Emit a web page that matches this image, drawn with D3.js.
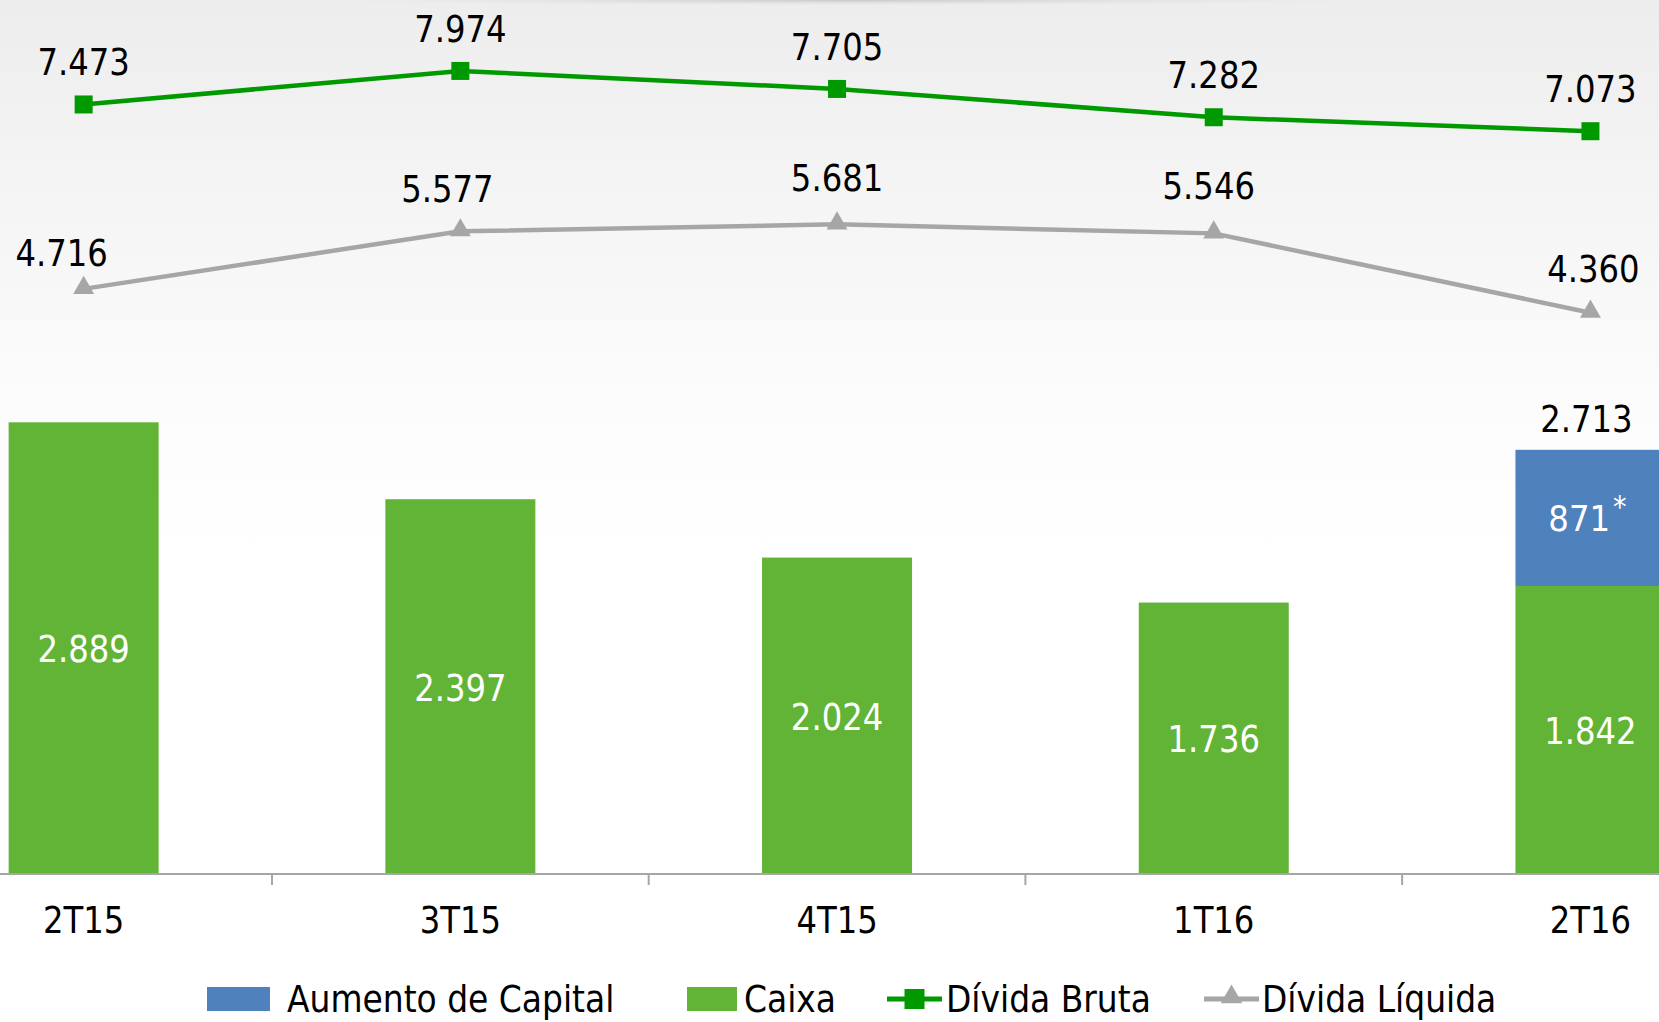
<!DOCTYPE html>
<html>
<head>
<meta charset="utf-8">
<script src="https://cdn.jsdelivr.net/npm/d3@7/dist/d3.min.js"></script>
<style>
  html, body { margin: 0; padding: 0; background: #ffffff; }
  svg { display: block; }
  text { font-family: "DejaVu Sans Condensed", "DejaVu Sans", sans-serif; }
</style>
</head>
<body>
<svg id="chart" width="1659" height="1022"></svg>
<script>
// ---- data ----
const categories = ["2T15", "3T15", "4T15", "1T16", "2T16"];
const caixa = [2889, 2397, 2024, 1736, 1842];
const aumentoCapital = [0, 0, 0, 0, 871];
const dividaBruta = [7473, 7974, 7705, 7282, 7073];
const dividaLiquida = [4716, 5577, 5681, 5546, 4360];
const seriesNames = ["Aumento de Capital", "Caixa", "Dívida Bruta", "Dívida Líquida"];

const fmt = v => d3.format(",")(v).replace(/,/g, ".");

const W = 1659, H = 1022;
const svg = d3.select("#chart");

// background gradient
const defs = svg.append("defs");
const bg = defs.append("linearGradient").attr("id", "bg").attr("x1", 0).attr("y1", 0).attr("x2", 0).attr("y2", 1);
bg.append("stop").attr("offset", "0%").attr("stop-color", "#ededed");
bg.append("stop").attr("offset", "15%").attr("stop-color", "#f3f3f3");
bg.append("stop").attr("offset", "40%").attr("stop-color", "#fcfcfc");
bg.append("stop").attr("offset", "55%").attr("stop-color", "#ffffff");
bg.append("stop").attr("offset", "100%").attr("stop-color", "#ffffff");
svg.append("rect").attr("width", W).attr("height", H).attr("fill", "url(#bg)");
const topShade = defs.append("radialGradient").attr("id", "topShade")
  .attr("cx", "50%").attr("cy", "0%").attr("r", "50%");
topShade.append("stop").attr("offset", "0%").attr("stop-color", "#c8c8c8").attr("stop-opacity", 1);
topShade.append("stop").attr("offset", "100%").attr("stop-color", "#e8e8e8").attr("stop-opacity", 0);
svg.append("rect").attr("x", 300).attr("y", 0).attr("width", 1100).attr("height", 12).attr("fill", "url(#topShade)");

// scales
const xOuter = d3.scaleBand().domain(categories).range([-104.7, 1778.8]);
const yBar = d3.scaleLinear().domain([0, 5590]).range([874, 0]);
const yLine = d3.scaleLinear().domain([0, 9000]).range([604.4, 2.3]);
const cx = c => xOuter(c) + xOuter.bandwidth() / 2;

const barW = 150;
const labelFont = 37, sx = 0.97;

function label(g, text, px, py, fill) {
  g.append("text")
    .attr("transform", `translate(${px},${py}) scale(${sx},1)`)
    .attr("text-anchor", "middle")
    .attr("font-size", labelFont)
    .attr("fill", fill)
    .text(text);
}

// stacked bars
const stackData = categories.map((c, i) => ({ cat: c, caixa: caixa[i], aumento: aumentoCapital[i] }));
const stack = d3.stack().keys(["caixa", "aumento"])(stackData);
const colors = { caixa: "#62b436", aumento: "#4f81bd" };
const gBars = svg.append("g");
stack.forEach(layer => {
  gBars.selectAll(null).data(layer.filter(d => d[1] > d[0])).enter().append("rect")
    .attr("x", d => cx(d.data.cat) - barW / 2)
    .attr("width", barW)
    .attr("y", d => yBar(d[1]))
    .attr("height", d => yBar(d[0]) - yBar(d[1]))
    .attr("fill", colors[layer.key]);
});

// bar labels
const gLab = svg.append("g");
categories.forEach((c, i) => {
  const mid = (yBar(0) + yBar(caixa[i])) / 2;
  label(gLab, fmt(caixa[i]), cx(c), mid + 14, "#ffffff");
  if (aumentoCapital[i] > 0) {
    const top = yBar(caixa[i] + aumentoCapital[i]);
    const m2 = (yBar(caixa[i]) + top) / 2;
    const t = gLab.append("text")
      .attr("x", cx(c) - 3).attr("y", m2 + 13)
      .attr("text-anchor", "middle")
      .attr("font-family", "'Liberation Sans', Arial, sans-serif")
      .attr("font-size", 36).attr("fill", "#ffffff");
    t.append("tspan").text(fmt(aumentoCapital[i]));
    t.append("tspan").attr("dx", 3).attr("dy", -14).attr("font-size", 30).text("*");
    label(gLab, fmt(caixa[i] + aumentoCapital[i]), cx(c) - 4, top - 18, "#000000");
  }
});

// axis
const gAxis = svg.append("g").attr("transform", "translate(0,874)");
gAxis.append("line").attr("x1", 0).attr("x2", W).attr("y1", 0).attr("y2", 0)
  .attr("stroke", "#a6a6a6").attr("stroke-width", 2);
gAxis.selectAll(".tk").data(categories.slice(1)).enter().append("line")
  .attr("x1", d => xOuter(d)).attr("x2", d => xOuter(d))
  .attr("y1", 0).attr("y2", 11)
  .attr("stroke", "#a6a6a6").attr("stroke-width", 2);
categories.forEach(c => label(gAxis, c, cx(c), 59, "#000000"));

// lines
const lineGen = d3.line().x(d => cx(d.c)).y(d => yLine(d.v));
const brutaPts = categories.map((c, i) => ({ c, v: dividaBruta[i] }));
const liqPts = categories.map((c, i) => ({ c, v: dividaLiquida[i] }));

svg.append("path").datum(liqPts).attr("d", lineGen).attr("fill", "none")
  .attr("stroke", "#a6a6a6").attr("stroke-width", 4.5);
const tri = d3.symbol().type(d3.symbolTriangle).size(190);
svg.selectAll(".tri").data(liqPts).enter().append("path")
  .attr("d", tri).attr("transform", d => `translate(${cx(d.c)},${yLine(d.v) - 1})`)
  .attr("fill", "#a6a6a6");

svg.append("path").datum(brutaPts).attr("d", lineGen).attr("fill", "none")
  .attr("stroke", "#009900").attr("stroke-width", 4.5);
svg.selectAll(".sq").data(brutaPts).enter().append("rect")
  .attr("x", d => cx(d.c) - 9).attr("y", d => yLine(d.v) - 9)
  .attr("width", 18).attr("height", 18).attr("fill", "#009900");

const gLL = svg.append("g");
brutaPts.forEach(d => label(gLL, fmt(d.v), cx(d.c), yLine(d.v) - 29, "#000000"));
const liqNudgeX = [-22, -13, 0, -5, 3];
const liqNudgeY = [6, 0, -4, -5, -2];
liqPts.forEach((d, i) => label(gLL, fmt(d.v), cx(d.c) + liqNudgeX[i], yLine(d.v) - 29 + liqNudgeY[i], "#000000"));

// legend
const gLeg = svg.append("g");
const legY = 999;
const legItems = [
  { name: seriesNames[0], type: "rect", color: "#4f81bd", x0: 207, w: 63, tx: 287 },
  { name: seriesNames[1], type: "rect", color: "#62b436", x0: 687, w: 50, tx: 744 },
  { name: seriesNames[2], type: "sq", color: "#009900", x0: 887, w: 55, tx: 946 },
  { name: seriesNames[3], type: "tri", color: "#a6a6a6", x0: 1204, w: 55, tx: 1262 }
];
legItems.forEach(it => {
  if (it.type === "rect") {
    gLeg.append("rect").attr("x", it.x0).attr("y", legY - 12).attr("width", it.w).attr("height", 24).attr("fill", it.color);
  } else {
    gLeg.append("line").attr("x1", it.x0).attr("x2", it.x0 + it.w).attr("y1", legY).attr("y2", legY)
      .attr("stroke", it.color).attr("stroke-width", 5);
    if (it.type === "sq") {
      gLeg.append("rect").attr("x", it.x0 + it.w / 2 - 10).attr("y", legY - 10).attr("width", 20).attr("height", 20).attr("fill", it.color);
    } else {
      gLeg.append("path").attr("d", d3.symbol().type(d3.symbolTriangle).size(200)())
        .attr("transform", `translate(${it.x0 + it.w / 2},${legY - 2})`).attr("fill", it.color);
    }
  }
  gLeg.append("text")
    .attr("transform", `translate(${it.tx},${legY + 13}) scale(0.99,1)`)
    .attr("font-size", labelFont).attr("fill", "#000000")
    .text(it.name);
});
</script>
</body>
</html>
